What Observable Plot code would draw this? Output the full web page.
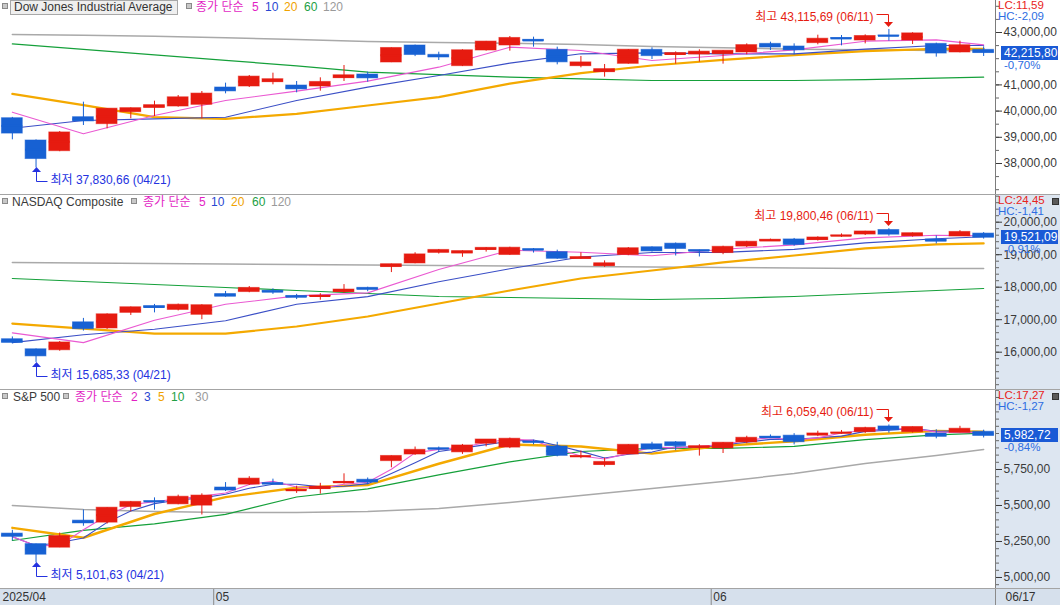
<!DOCTYPE html>
<html><head><meta charset="utf-8">
<script src="https://cdn.jsdelivr.net/npm/d3@7"></script>
<script src="https://cdn.jsdelivr.net/npm/@observablehq/plot@0.6"></script>
<style>
body{margin:0;background:#fff;font-family:"Liberation Sans",Arial,"Noto Sans CJK KR",sans-serif;}
#root{position:relative;width:1060px;height:605px;overflow:hidden;background:#fff}
.abs{position:absolute}
.sep{position:absolute;left:0;width:1060px;height:1px;background:#a4a4a4}
.lg{position:absolute;font-size:12px;line-height:14px;white-space:nowrap}
.sq{position:absolute;width:4px;height:4px;border:1px solid #8a8a8a;background:#c8c8c8}
.side{position:absolute;font-size:11.5px;line-height:11px;white-space:nowrap}
</style></head>
<body><div id="root"></div>
<script>
// ---------------- data ----------------
const dates = ["04/17","04/21","04/22","04/23","04/24","04/25","04/28","04/29","04/30",
"05/01","05/02","05/05","05/06","05/07","05/08","05/09","05/12","05/13","05/14","05/15","05/16","05/19","05/20","05/21","05/22","05/23","05/27","05/28","05/29","05/30",
"06/02","06/03","06/04","06/05","06/06","06/09","06/10","06/11","06/12","06/13","06/16","06/17"];
const monthStarts = [0, 9, 30];
const monthLabels = ["2025/04", "05", "06"];
const lastDateLabel = "06/17";

const djOpen  = [39729,38878,38470,39768,39501,39959,40124,40175,40239,40901,40939,41104,40977,40939,41257,41397,41855,42504,42148,41715,42313,42504,42720,42338,41715,41486,41804,42338,42148,42160,42173,42237,42567,42466,42593,42790,42694,42885,42694,42567,42237,42338];
const djHigh  = [39760,38900,39220,40341,40093,40124,40379,40595,40748,41066,41359,41448,41130,41270,41740,41486,42410,42520,42249,42340,42660,42847,42822,42440,42084,41779,42350,42415,42260,42340,42310,42567,42631,42567,42898,42885,42911,43115.69,42990,42593,42669,42453];
const djLow   = [38903,37830.66,38450,39450,39323,39705,39794,40150,39705,40659,40900,41003,40697,40761,41130,41104,41850,42080,41931,41700,42290,42288,42440,41766,41652,41295,41790,41969,41792,41868,41792,42148,42313,42148,42529,42491,42567,42669,42542,42059,42224,42084];
const djClose = [39142,38170,39186,39606,40093,40113,40228,40527,40669,40752,41317,41218,40829,41114,41368,41249,42410,42140,42051,42322,42654,42792,42677,41860,41859,41603,42343,42098,42215,42270,42305,42519,42427,42319,42763,42761,42867,42865,42967,42197,42515,42215.80];

const nqOpen  = [16400,16090,16060,16920,16730,17210,17420,17300,17150,17790,17850,17890,17730,17720,17850,17980,18620,18730,19060,19040,19150,18990,19170,19080,18880,18650,18990,19230,19340,19140,19050,19250,19420,19470,19450,19580,19620,19760,19570,19470,19560,19650];
const nqHigh  = [16470,16100,16330,17040,17180,17390,17470,17480,17460,17870,18020,17950,17780,17800,18080,18000,18710,19060,19160,19120,19220,19230,19190,19140,19060,18810,19220,19240,19360,19140,19260,19410,19480,19500,19550,19640,19720,19800.46,19670,19580,19740,19680];
const nqLow   = [16255,15685.33,16030,16650,16700,17130,17210,17270,17000,17690,17830,17780,17620,17600,17810,17860,18450,18720,19020,18920,19080,18980,19050,18860,18860,18610,18970,19080,18960,18930,19000,19220,19410,19260,19420,19530,19590,19570,19540,19330,19560,19480];
const nqClose = [16286,15871,16300,16708,17166,17383,17366,17461,17446,17711,17978,17844,17690,17738,17928,17929,18708,19010,19147,19112,19211,19215,19143,18873,18926,18737,19199,19101,19176,19114,19243,19399,19460,19298,19530,19591,19715,19616,19662,19407,19701,19521.09];

const spOpen  = [5305,5232,5207,5395,5381,5489,5529,5508,5499,5625,5645,5655,5606,5614,5660,5679,5808,5854,5897,5869,5929,5902,5944,5910,5842,5781,5854,5925,5939,5903,5896,5938,5978,5985,5987,6004,6009,6049,6009,6000,6005,6012];
const spHigh  = [5328,5232,5309,5469,5485,5528,5553,5572,5581,5659,5700,5683,5634,5654,5720,5691,5844,5906,5906,5924,5958,5968,5953,5939,5878,5829,5922,5939,5944,5922,5937,5981,5990,5999,6016,6021,6043,6059.40,6045,6026,6050,6023];
const spLow   = [5255,5101.63,5207,5356,5371,5456,5468,5505,5434,5597,5639,5642,5584,5579,5649,5644,5762,5848,5868,5855,5907,5895,5921,5838,5825,5767,5854,5884,5880,5843,5861,5929,5966,5921,5978,5994,6000,6002,6003,5963,6005,5969];
const spClose = [5282.70,5158.20,5287.76,5375.86,5484.77,5525.21,5528.75,5560.83,5569.06,5604.14,5686.67,5650.38,5606.91,5631.28,5663.94,5659.91,5844.19,5886.55,5892.58,5916.93,5958.38,5963.60,5940.46,5844.61,5842.01,5802.82,5921.54,5888.55,5912.17,5911.69,5935.94,5970.37,5970.81,5939.30,6000.36,6005.88,6038.81,6022.24,6045.26,5976.97,6033.11,5982.72];

// moving-average values read at these candle positions
const maIdx = [0,3,6,9,12,15,18,21,24,27,30,33,36,39,41];
const djMA5   = [39959,39132,39832,40404,40761,41143,41677,42440,42313,41931,42122,42338,42669,42720,42529];
const djMA10  = [39348,39641,39705,39768,40404,40914,41359,41830,42186,42224,42186,42186,42364,42504,42504];
const djMA20  = [40659,40226,39768,39705,39896,40214,40532,41050,41448,41740,41957,42135,42288,42377,42377];
const djMA60  = [42567,42356,42148,41936,41728,41486,41390,41295,41230,41168,41168,41168,41200,41260,41295];
const djMA120 = [42924,42898,42860,42796,42732,42656,42618,42593,42542,42466,42415,42364,42338,42313,42313];

const nqMA5   = [16594,16294,16985,17473,17734,17826,18544,19139,19074,18967,19167,19303,19519,19598,19581];
const nqMA10  = [16294,16536,16704,16970,17475,17709,18168,18569,18927,19066,19073,19165,19363,19492,19550];
const nqMA20  = [16882,16728,16574,16574,16790,17098,17498,17898,18268,18514,18761,18976,19192,19315,19346];
const nqMA60  = [18268,18176,18083,17991,17898,17806,17714,17683,17652,17621,17652,17714,17806,17898,17960];
const nqMA120 = [18761,18745,18730,18715,18699,18684,18668,18653,18638,18622,18607,18592,18576,18576,18576];

const spMA5  = [5345,5276,5441,5558,5623,5642,5790,5924,5910,5860,5914,5946,5991,6018,6012];
const spMA10 = [5257,5327,5372,5438,5559,5616,5713,5803,5875,5897,5897,5910,5957,5991,6002];
const spMA30 = [5500,5472,5458,5451,5451,5458,5479,5521,5569,5618,5667,5722,5792,5847,5889];

const djTicks = [38000,39000,40000,41000,43000];
const nqTicks = [16000,17000,18000,19000,20000];
const spTicks = [5000,5250,5500,5750];

const djInfo = {lc:"LC:11,59", hc:"HC:-2,09", pct:"-0,70%"};
const nqInfo = {lc:"LC:24,45", hc:"HC:-1,41", pct:"-0,91%"};
const spInfo = {lc:"LC:17,27", hc:"HC:-1,27", pct:"-0,84%"};

// ---------------- style ----------------
const RED = "#e61b10", BLUE = "#1761d3";
const C_PINK = "#ea5ad2", C_BLUE = "#3b4fc6", C_ORANGE = "#f4a900", C_GREEN = "#15a03a", C_GRAY = "#a9a9a9";
const FONT = "'Liberation Sans', Arial, 'Noto Sans CJK KR', sans-serif";
const fmt2 = v => d3.format(",.2f")(v).replace(/\.(\d\d)$/, ",$1");

const root = document.getElementById("root");

function hiAnno(i, v) {
  return (index, scales) => {
    const px = Math.round(scales.x(i)) + 0.5, py = Math.round(scales.y(v));
    const g = d3.create("svg:g");
    g.append("path").attr("d", `M${px-12},${py-14.5}H${px}V${py-7}`).attr("fill","none").attr("stroke",RED);
    g.append("path").attr("d", `M${px-4.5},${py-7}L${px+4.5},${py-7}L${px},${py-2}Z`).attr("fill",RED);
    g.append("text").attr("x", px-15).attr("y", py-12).attr("dy","0.35em").attr("text-anchor","end")
      .attr("fill", RED).attr("font-size", 12).text(`최고 ${fmt2(v)} (${dates[i]})`);
    return g.node();
  };
}
function loAnno(i, v) {
  return (index, scales) => {
    const px = Math.round(scales.x(i)) + 0.5, py = Math.round(scales.y(v));
    const g = d3.create("svg:g");
    const c = "#2432e0";
    g.append("path").attr("d", `M${px},${py+4}V${py+14.5}H${px+11}`).attr("fill","none").attr("stroke",c);
    g.append("path").attr("d", `M${px-4.5},${py+5}L${px+4.5},${py+5}L${px},${py}Z`).attr("fill",c);
    g.append("text").attr("x", px+14).attr("y", py+13).attr("dy","0.35em").attr("text-anchor","start")
      .attr("fill", c).attr("font-size", 12).text(`최저 ${fmt2(v)} (${dates[i]})`);
    return g.node();
  };
}

function sideDiv(wrap, text, left, top, css) {
  const d = document.createElement("div");
  d.className = "side";
  d.style.left = left + "px"; d.style.top = top + "px";
  d.style.cssText += css;
  d.textContent = text;
  wrap.appendChild(d);
  return d;
}

function panel(cfg) {
  const rows = cfg.open.map((o, i) => ({i, o, h: cfg.high[i], l: cfg.low[i], c: cfg.close[i], col: cfg.close[i] >= o ? RED : BLUE}));
  const marks = [];
  for (const ln of cfg.lines) {
    if (ln.k) {
      marks.push(Plot.lineY(rows, Plot.windowY({k: ln.k, anchor: "end", reduce: "mean"}, {x: "i", y: "c", stroke: ln.color, strokeWidth: ln.w})));
    } else {
      marks.push(Plot.line(maIdx.map((i, j) => ({i, v: ln.values[j]})), {x: "i", y: "v", stroke: ln.color, strokeWidth: ln.w}));
    }
  }
  marks.push(Plot.ruleX(rows, {x: "i", y1: "l", y2: "h", stroke: "col", strokeWidth: 1}));
  marks.push(Plot.rect(rows, {x1: d => d.i - 0.44, x2: d => d.i + 0.44, y1: "o", y2: "c", fill: "col", stroke: "col", strokeOpacity: 0.55, strokeWidth: 1}));
  marks.push(Plot.ruleY(rows, {y: d => (d.o + d.c) / 2, x1: d => d.i - 0.44, x2: d => d.i + 0.44, stroke: "col", strokeWidth: 2}));
  marks.push(Plot.ruleX([41.5], {stroke: "#7c7c7c"}));
  marks.push(Plot.axisY(cfg.minor, {anchor: "right", tickSize: 3, tickFormat: () => "", stroke: "#666", label: null}));
  marks.push(Plot.axisY(cfg.ticks, {anchor: "right", tickSize: 6, tickPadding: 2, tickFormat: fmt2, fontSize: 12, color: "#3a3a3a", label: null}));
  const hiI = d3.maxIndex(cfg.high), loI = d3.minIndex(cfg.low);
  marks.push(hiAnno(hiI, cfg.high[hiI]));
  marks.push(loAnno(loI, cfg.low[loI]));

  const wrap = document.createElement("div");
  wrap.className = "abs";
  wrap.style.cssText = `left:0;top:${cfg.top}px;width:1060px;height:${cfg.height}px;`;
  const bg = document.createElement("div");
  bg.className = "abs";
  bg.style.cssText = `left:996px;top:0;width:64px;height:${cfg.height}px;background:${cfg.axisBg};`;
  wrap.appendChild(bg);
  const svg = Plot.plot({
    width: 1060, height: cfg.height,
    marginLeft: 0, marginRight: 65, marginTop: 0, marginBottom: 0,
    x: {domain: [-0.5, 41.5], axis: null},
    y: {domain: cfg.domain, label: null},
    color: {type: "identity"},
    style: {fontFamily: FONT, fontSize: "12px", background: "transparent", overflow: "visible"},
    marks
  });
  svg.style.position = "absolute"; svg.style.left = "0px"; svg.style.top = "0px";
  wrap.appendChild(svg);

  // right-side info (positioned with the plot's own scales)
  const last = cfg.close[cfg.close.length - 1];
  const py = Math.round(svg.scale("y").apply(last));
  const x0 = Math.round(svg.scale("x").apply(41.5));
  sideDiv(wrap, cfg.info.lc, x0 + 3, 0, "color:#e8231b;");
  sideDiv(wrap, cfg.info.hc, x0 + 3, 11, "color:#2d6de2;");
  sideDiv(wrap, fmt2(last), x0 + 6, py - 7, "color:#fff;background:#1a5ad6;width:54px;height:14px;line-height:14px;padding-left:3px;font-size:12px;");
  sideDiv(wrap, cfg.info.pct, x0 + 9, py + 7, `color:#2d6de2;`);
  if (cfg.icon) {
    const ic = document.createElement("div");
    ic.className = "abs";
    ic.style.cssText = `left:${x0 + 57}px;top:3px;width:5px;height:5px;background:#5a5a5a;border:1px solid #333;`;
    wrap.appendChild(ic);
  }
  root.appendChild(wrap);
}

function legend(top, title, boxed, items) {
  const add = (html, x, y, css) => {
    const d = document.createElement("div");
    d.className = "lg"; d.style.left = x + "px"; d.style.top = (top + y) + "px";
    if (css) d.style.cssText += css;
    d.textContent = html; root.appendChild(d); return d;
  };
  const sq = x => { const s = document.createElement("div"); s.className = "sq"; s.style.left = x + "px"; s.style.top = (top + 3) + "px"; root.appendChild(s); };
  sq(2);
  if (boxed) add(title.text, 10, 0, "border:1px solid #a8a8a8;background:#efefef;padding:0 4px 0 3px;height:13px;line-height:13px;color:#333;");
  else add(title.text, title.x, 0, "color:#3a3a3a;");
  sq(title.sq);
  for (const it of items) add(it.t, it.x, 0, `color:${it.c};`);
}

// ---------------- build ----------------
panel({top: 0, height: 194, domain: [36816.8, 44221.4], open: djOpen, high: djHigh, low: djLow, close: djClose,
  ticks: djTicks, minor: d3.range(37000, 44001, 500), info: djInfo, icon: false, axisBg: "#ffffff",
  lines: [{values: djMA120, color: C_GRAY, w: 1.5}, {values: djMA60, color: C_GREEN, w: 1.2}, {values: djMA20, color: C_ORANGE, w: 2.2},
          {values: djMA10, color: C_BLUE, w: 1.1}, {values: djMA5, color: C_PINK, w: 1.1}]});
panel({top: 195, height: 194, domain: [14852.3, 20821.5], open: nqOpen, high: nqHigh, low: nqLow, close: nqClose,
  ticks: nqTicks, minor: d3.range(15000, 20801, 200), info: nqInfo, icon: true, axisBg: "#dde6f1",
  lines: [{values: nqMA120, color: C_GRAY, w: 1.5}, {values: nqMA60, color: C_GREEN, w: 1.2}, {values: nqMA20, color: C_ORANGE, w: 2.2},
          {values: nqMA10, color: C_BLUE, w: 1.1}, {values: nqMA5, color: C_PINK, w: 1.1}]});
panel({top: 390, height: 198, domain: [4923.6, 6298.6], open: spOpen, high: spHigh, low: spLow, close: spClose,
  ticks: spTicks, minor: d3.range(4950, 6301, 50), info: spInfo, icon: true, axisBg: "#dde6f1",
  lines: [{values: spMA30, color: C_GRAY, w: 1.5}, {values: spMA10, color: C_GREEN, w: 1.2}, {values: spMA5, color: C_ORANGE, w: 2.4},
          {k: 3, color: C_BLUE, w: 1.1}, {k: 2, color: C_PINK, w: 1.1}]});

// separators
for (const y of [194, 389, 588]) { const s = document.createElement("div"); s.className = "sep"; s.style.top = y + "px"; root.appendChild(s); }

// legends
const MAG = "#e21fc4", LBL = "#2846d2", LOR = "#f0a200", LGR = "#22a044", LGY = "#9a9a9a";
legend(0, {text: "Dow Jones Industrial Average", sq: 186}, true, [
  {t: "종가 단순", x: 196, c: MAG}, {t: "5", x: 252, c: MAG}, {t: "10", x: 265, c: LBL}, {t: "20", x: 284, c: LOR}, {t: "60", x: 304, c: LGR}, {t: "120", x: 323, c: LGY}]);
legend(195, {text: "NASDAQ Composite", x: 12, sq: 131}, false, [
  {t: "종가 단순", x: 143, c: MAG}, {t: "5", x: 199, c: MAG}, {t: "10", x: 211, c: LBL}, {t: "20", x: 231, c: LOR}, {t: "60", x: 252, c: LGR}, {t: "120", x: 271, c: LGY}]);
legend(390, {text: "S&P 500", x: 13, sq: 63}, false, [
  {t: "종가 단순", x: 75, c: MAG}, {t: "2", x: 131, c: MAG}, {t: "3", x: 144, c: LBL}, {t: "5", x: 158, c: LOR}, {t: "10", x: 171, c: LGR}, {t: "30", x: 195, c: LGY}]);

// bottom date axis
const strip = document.createElement("div");
strip.className = "abs";
strip.style.cssText = "left:0;top:589px;width:1060px;height:16px;background:#d6e0ec;";
root.appendChild(strip);
const xa = Plot.plot({
  width: 1060, height: 16, marginLeft: 0, marginRight: 65, marginTop: 0, marginBottom: 0,
  x: {domain: [-0.5, 41.5], axis: null},
  style: {fontFamily: FONT, fontSize: "12px", background: "transparent", overflow: "visible"},
  marks: [
    Plot.ruleX(monthStarts.slice(1), {x: d => d - 0.5, stroke: "#8a8a8a"}),
    Plot.ruleX([41.5], {stroke: "#8a8a8a"}),
    Plot.text(monthStarts, {x: d => d - 0.5, text: (d, k) => monthLabels[k], textAnchor: "start", dx: 2, fontSize: 12, fill: "#333"}),
    Plot.text([lastDateLabel], {x: () => 41.5, text: d => d, textAnchor: "start", dx: 10, fontSize: 12, fill: "#333"})
  ]
});
xa.style.position = "absolute"; xa.style.left = "0px"; xa.style.top = "0px";
strip.appendChild(xa);
</script>
</body></html>
